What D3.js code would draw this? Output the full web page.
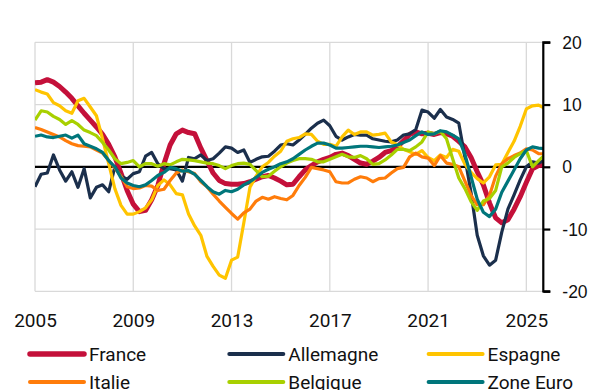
<!DOCTYPE html>
<html>
<head>
<meta charset="utf-8">
<script src="https://cdn.jsdelivr.net/npm/d3@7"></script>
<style>
  html, body { margin: 0; padding: 0; background: #fff; }
  svg { display: block; }
</style>
</head>
<body>
<svg id="chart" width="592" height="390"></svg>
<script>
// Quarterly observations, 2005 Q1 onwards
const quarters = d3.range(84).map(i => 2005 + i / 4);

const france = [
  13.5, 13.6, 14.0, 13.6, 12.9, 12.0, 11.0, 9.8, 8.6, 7.5, 6.4, 5.2,
  3.6, 1.6, -1.0, -3.8, -6.0, -7.2, -7.0, -5.3, -3.0, 0.5, 3.5, 5.3,
  5.9, 5.5, 5.3, 3.0, 1.0, -1.0, -2.2, -2.7, -2.8, -2.8, -2.7, -2.4,
  -2.0, -1.6, -1.4, -1.8, -2.3, -2.9, -2.8, -1.6, -0.5, 0.2, 0.8, 1.2,
  1.5, 2.0, 2.2, 1.8, 1.2, 0.6, 0.4, 0.9, 1.5, 2.3, 2.6, 3.2,
  4.2, 5.2, 5.6, 5.3, 5.4, 5.2, 5.5, 5.3, 4.9, 4.1, 3.2, 1.5,
  -0.8, -2.9, -5.8, -8.2, -9.0, -8.5, -6.8, -4.8, -2.5, -0.3, 0.2, 0.3
];
const allemagne = [
  -3.2, -1.2, -1.0, 1.9, -0.5, -2.3, -0.8, -3.3, -0.3, -5.0, -3.3, -2.9,
  -4.0, 0.0, -1.5, -2.0, -1.1, -0.8, 1.7, 2.3, 0.5, -0.3, -0.3, -0.5,
  -2.3, 1.5, 1.3, 1.9, 1.0, 1.3, 2.2, 3.2, 3.0, 2.3, 2.7, 0.7,
  1.2, 1.6, 1.7, 2.5, 3.5, 3.7, 3.5, 4.3, 5.2, 6.2, 7.0, 7.5,
  6.6, 4.9, 4.3, 4.8, 5.2, 5.1, 5.1, 4.5, 4.3, 4.1, 4.0, 4.3,
  5.1, 5.3, 6.0, 9.1, 8.8, 7.8, 9.2, 8.0, 7.6, 7.0, 1.5, -4.2,
  -11.0, -14.3, -15.8, -15.0, -10.5, -6.8, -4.5, -2.1, 0.0, 0.8, 0.6, 1.1
];
const espagne = [
  12.4, 12.0, 11.7, 10.3, 9.8, 9.0, 8.6, 10.6, 11.0, 9.6, 8.2, 4.5,
  0.5, -3.5, -6.2, -7.6, -7.6, -7.2, -6.6, -5.3, -3.0, -2.1, -2.9, -4.3,
  -4.5, -7.6, -9.5, -11.0, -14.4, -16.0, -17.4, -17.9, -15.0, -14.5, -9.0, -3.3,
  -1.5, 0.0, 0.7, 1.7, 2.5, 4.1, 4.5, 4.7, 5.3, 5.2, 4.1, 3.6,
  3.6, 3.3, 4.8, 5.9, 5.2, 5.6, 5.6, 5.1, 5.2, 5.4, 4.0, 3.6,
  2.8, 2.4, 2.0, 2.6, 1.5, 1.0, 1.9, 1.5, 2.8, 2.5, 0.4, -0.9,
  -1.9, -2.6, -1.6, 0.3, 0.4, 2.3, 4.1, 6.5, 9.3, 9.8, 9.9, 9.4
];
const italie = [
  6.3, 6.0, 5.6, 5.2, 4.8, 4.2, 3.7, 3.4, 3.3, 3.2, 2.7, 2.2,
  1.0, -0.2, -1.5, -3.2, -3.5, -3.4, -3.0, -3.1, -3.8, -3.6, -2.2, -1.0,
  -0.5, -0.8, -1.1, -2.4, -3.2, -4.4, -5.5, -6.5, -7.5, -8.4, -7.4, -6.8,
  -5.5, -4.9, -5.2, -4.8, -5.1, -5.3, -4.6, -3.0, -1.7, -0.1, -0.3, -0.5,
  -0.8, -2.4, -2.6, -2.6, -2.0, -1.6, -1.8, -2.4, -1.9, -1.8, -1.0, -0.3,
  -0.1, 1.6, 2.2, 1.6, 1.4, 0.2, 1.8, 0.6, 0.4, 0.0, -2.3, -4.6,
  -6.1, -6.1, -4.6, -1.5, 0.5, 1.3, 1.8, 2.2, 2.9, 2.7, 2.1, 2.1
];
const belgique = [
  7.5, 9.0, 8.8, 8.1, 7.6, 6.8, 7.4, 6.8, 5.9, 5.5, 5.0, 3.9,
  2.7, 1.3, 0.5, 0.7, 1.0, 0.0, 0.5, 0.5, 0.1, 0.5, 0.3, 0.8,
  1.2, 1.1, 1.0, 0.8, 0.6, 0.5, 0.2, -0.3, 0.2, 0.5, 0.6, 0.4,
  -0.6, -1.6, -1.5, -0.7, 0.0, 0.6, 1.0, 1.3, 1.3, 1.2, 0.8, 0.8,
  1.2, 1.6, 2.0, 1.6, 1.5, 1.8, 1.3, 0.4, 0.5, 1.1, 1.9, 2.8,
  2.8, 2.6, 3.2, 4.0, 5.6, 5.3, 5.7, 4.5, 1.3, -1.8, -3.5, -5.6,
  -7.0, -5.5, -5.1, -3.8, 0.0, 0.6, 1.5, 2.1, 2.6, 0.0, 1.0, 1.9
];
const zoneEuro = [
  4.9, 5.1, 4.8, 4.7, 4.9, 5.1, 4.6, 5.1, 3.7, 3.3, 2.9, 2.3,
  1.0, 0.0, -1.8, -2.6, -3.0, -3.2, -2.9, -2.2, -1.4, -0.9, -0.1, -0.3,
  -0.7, -0.6, -1.2, -2.2, -3.2, -4.0, -4.4, -3.8, -4.0, -3.6, -2.9, -2.4,
  -1.7, -0.9, -0.4, 0.0, 0.5, 0.8, 1.3, 2.0, 2.7, 3.3, 3.8, 3.8,
  3.5, 3.0, 3.0, 3.1, 3.2, 3.3, 3.3, 3.2, 3.1, 3.2, 3.3, 3.5,
  3.9, 4.3, 5.0, 5.6, 5.2, 5.3, 5.8, 5.6, 5.1, 4.5, 2.0, -1.6,
  -5.2, -7.3, -8.0, -6.8, -4.1, -2.3, -0.5, 1.3, 2.7, 3.2, 3.0, 2.9
];

const seriesNames = ["France", "Allemagne", "Espagne", "Italie", "Belgique", "Zone Euro"];
const seriesValues = [france, allemagne, espagne, italie, belgique, zoneEuro];
const seriesColors = ["#c4103a", "#1b2f4c", "#ffc400", "#ff7c0a", "#a8d000", "#00767b"];
const seriesWidths = [5, 3.2, 3.2, 3.2, 3.2, 3.2];

const xTicks = [2005, 2009, 2013, 2017, 2021, 2025];
const yTicks = [-20, -10, 0, 10, 20];

const svg = d3.select("#chart");
const plotLeft = 35, plotRight = 543.3, plotTop = 42.3, plotBottom = 291.3;

const x = d3.scaleLinear().domain([2005, 2025.69]).range([plotLeft, plotRight]);
const y = d3.scaleLinear().domain([-20, 20]).range([plotBottom, plotTop]);

// Grid
const grid = svg.append("g").attr("stroke", "#d9d9d9").attr("stroke-width", 1.3);
grid.selectAll("line.h").data(yTicks.filter(d => d !== 0)).join("line")
  .attr("class", "h")
  .attr("x1", plotLeft).attr("x2", plotRight)
  .attr("y1", d => y(d)).attr("y2", d => y(d));
grid.selectAll("line.v").data(xTicks).join("line")
  .attr("class", "v")
  .attr("x1", d => x(d)).attr("x2", d => x(d))
  .attr("y1", plotTop).attr("y2", plotBottom);

// Zero line
svg.append("line")
  .attr("x1", plotLeft).attr("x2", plotRight)
  .attr("y1", y(0)).attr("y2", y(0))
  .attr("stroke", "#000").attr("stroke-width", 2.2);

// Series
svg.append("clipPath").attr("id", "plot-clip")
  .append("rect").attr("x", plotLeft).attr("y", 0).attr("width", plotRight - plotLeft).attr("height", 390);

const line = d3.line().x((d, i) => x(quarters[i])).y(d => y(d));
const lines = svg.append("g").attr("clip-path", "url(#plot-clip)");
seriesValues.forEach((vals, k) => {
  lines.append("path")
    .datum(vals)
    .attr("d", line)
    .attr("fill", "none")
    .attr("stroke", seriesColors[k])
    .attr("stroke-width", seriesWidths[k])
    .attr("stroke-linejoin", "round")
    .attr("stroke-linecap", "butt");
});

// Right axis (plain hyphen for negative labels)
const yAxis = d3.axisRight(y).tickValues(yTicks).tickSize(7).tickPadding(12).tickFormat(d => String(d));
const ya = svg.append("g").attr("transform", `translate(${plotRight},0)`).call(yAxis);
ya.select(".domain").attr("stroke", "#000").attr("stroke-width", 2.2).attr("d", `M7,${plotTop}H0V${plotBottom}H7`);
ya.selectAll(".tick line").attr("stroke", "#000").attr("stroke-width", 2.2);
ya.selectAll(".tick text")
  .attr("font-family", "'Liberation Sans', Arial, sans-serif")
  .attr("font-size", 17.5)
  .attr("fill", "#111")
  .attr("text-anchor", "start")
  .attr("dy", "0.35em");

// Bottom year labels
const xAxis = d3.axisBottom(x).tickValues(xTicks).tickSize(0).tickPadding(0).tickFormat(d => String(d));
const xa = svg.append("g").attr("transform", `translate(0,${plotBottom})`).call(xAxis);
xa.select(".domain").remove();
xa.selectAll(".tick text")
  .attr("font-family", "Roboto, sans-serif")
  .attr("font-size", 19)
  .attr("fill", "#111")
  .attr("y", 36)
  .attr("dy", 0);

// Legend
const legend = svg.append("g");
seriesNames.forEach((name, k) => {
  const col = k % 3, row = Math.floor(k / 3);
  const gx = 30 + col * 199.3, gy = 354 + row * 28;
  const g = legend.append("g").attr("transform", `translate(${gx},${gy})`);
  g.append("line").attr("x1", 0).attr("x2", 54).attr("y1", 0).attr("y2", 0)
    .attr("stroke", seriesColors[k]).attr("stroke-width", k === 0 ? 5.5 : 4)
    .attr("stroke-linecap", "round");
  g.append("text").attr("x", 59).attr("y", 7)
    .attr("font-family", "Roboto, sans-serif").attr("font-size", 19)
    .attr("fill", "#111").text(name);
});
</script>
</body>
</html>
